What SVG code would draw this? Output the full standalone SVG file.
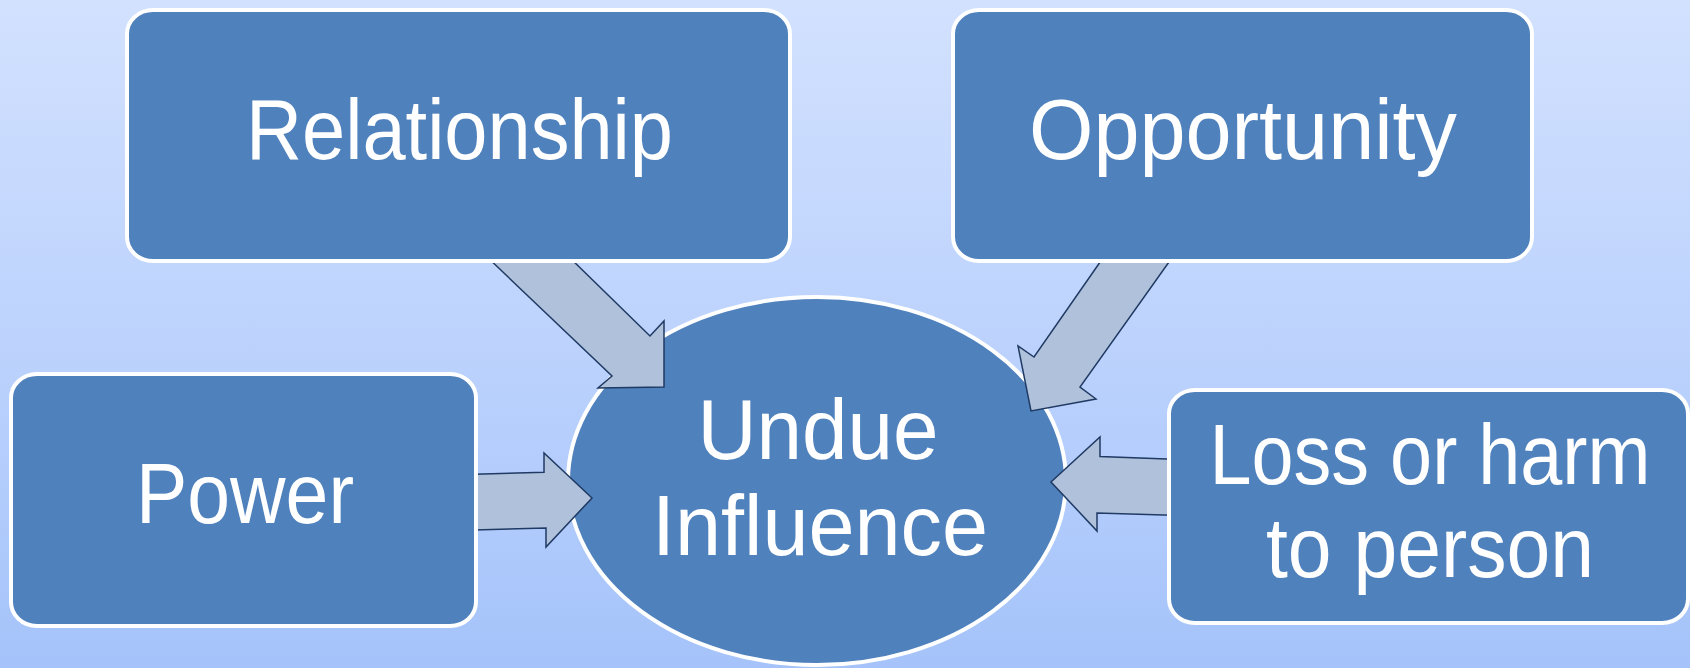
<svg xmlns="http://www.w3.org/2000/svg" width="1690" height="668" viewBox="0 0 1690 668">
  <defs>
    <linearGradient id="bg" x1="0" y1="0" x2="0" y2="1">
      <stop offset="0" stop-color="#D2E1FE"/>
      <stop offset="0.5" stop-color="#BDD3FD"/>
      <stop offset="1" stop-color="#A5C3FA"/>
    </linearGradient>
    <style>
      .box { fill: #4F81BD; stroke: #FFFFFF; stroke-width: 4; }
      .arrow { fill: #B0C1DB; stroke: #1F3A63; stroke-width: 1.5; stroke-linejoin: miter; }
      .label { font-family: "Liberation Sans", Arial, sans-serif; font-size: 86px; fill: #FFFFFF; text-anchor: middle; }
    </style>
  </defs>

  <rect x="0" y="0" width="1690" height="668" fill="url(#bg)"/>

  <!-- central node -->
  <g id="node-undue-influence">
    <ellipse class="box" cx="817" cy="481" rx="249" ry="184"/>
    <text class="label" x="818" y="459" textLength="241" lengthAdjust="spacingAndGlyphs">Undue</text>
    <text class="label" x="820" y="555" textLength="336" lengthAdjust="spacingAndGlyphs">Influence</text>
  </g>

  <!-- block arrows pointing into the centre -->
  <g id="connectors">
    <polygon class="arrow" points="485,255 612,376 598,388 664,387 664,321 650,336 567,255"/>
    <polygon class="arrow" points="1105,255 1034,357 1018,346 1031,411 1096,399 1080,387 1174,255"/>
    <polygon class="arrow" points="465,474.4 544,472.3 544,453 592,498 546,547 546,528 465,530.3"/>
    <polygon class="arrow" points="1180,459.6 1100,456.5 1100,437 1051,482 1097,531 1097,513 1180,515.6"/>
  </g>

  <g id="node-relationship">
    <rect class="box" x="127" y="10" width="663" height="251" rx="26" ry="24"/>
    <text class="label" x="459.5" y="159" textLength="427" lengthAdjust="spacingAndGlyphs">Relationship</text>
  </g>

  <g id="node-opportunity">
    <rect class="box" x="953" y="10" width="579" height="251" rx="26" ry="24"/>
    <text class="label" x="1243" y="159" textLength="428" lengthAdjust="spacingAndGlyphs">Opportunity</text>
  </g>

  <g id="node-power">
    <rect class="box" x="11" y="374" width="465" height="252" rx="26" ry="24"/>
    <text class="label" x="245" y="523" textLength="218" lengthAdjust="spacingAndGlyphs">Power</text>
  </g>

  <g id="node-loss-or-harm">
    <rect class="box" x="1169" y="390" width="519" height="233" rx="26" ry="24"/>
    <text class="label" x="1430" y="484" textLength="441" lengthAdjust="spacingAndGlyphs">Loss or harm</text>
    <text class="label" x="1430" y="577" textLength="328" lengthAdjust="spacingAndGlyphs">to person</text>
  </g>
</svg>
